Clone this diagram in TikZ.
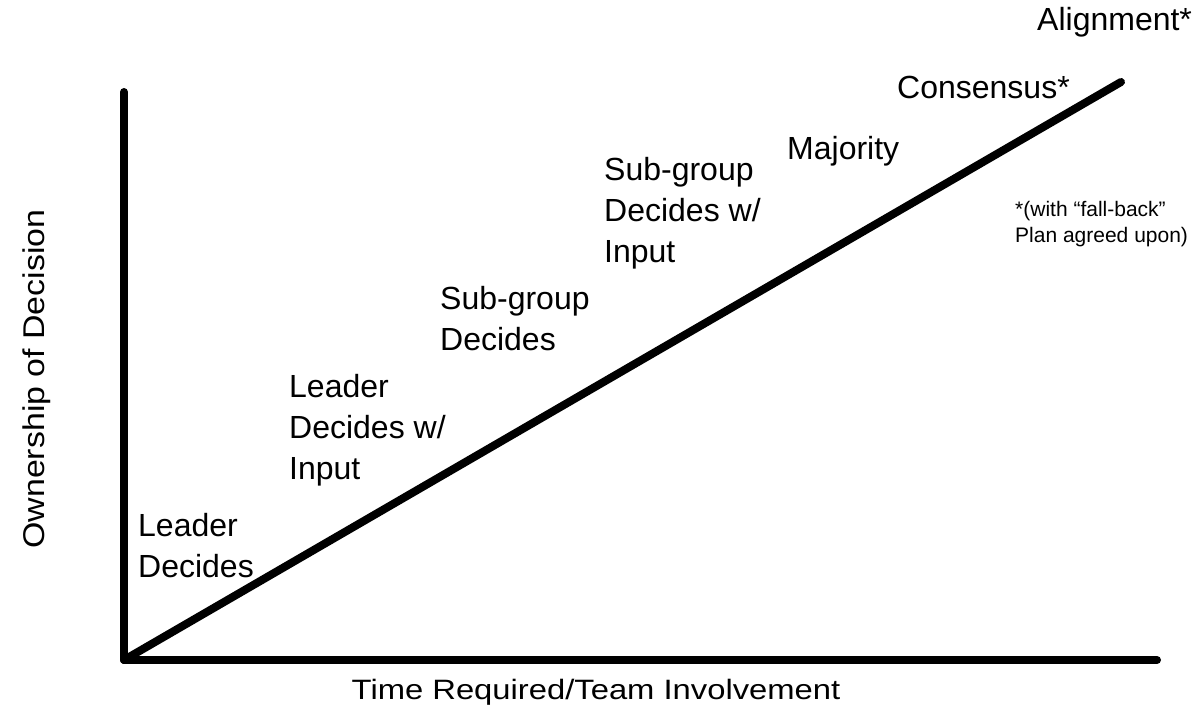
\documentclass[tikz,border=0pt]{standalone}
\usepackage{fontspec}
\setmainfont{Liberation Sans}
\begin{document}
\begin{tikzpicture}[x=1pt,y=-1pt,
  axis/.style={line width=8pt,line cap=round,line join=round},
  lbl/.style={anchor=base west,inner sep=0pt,align=left,font=\fontsize{32}{41}\selectfont},
  axlbl/.style={anchor=base,inner sep=0pt,font=\fontsize{28}{34}\selectfont},
  note/.style={anchor=base west,inner sep=0pt,align=left,font=\fontsize{21}{26}\selectfont}]
\useasboundingbox (0,0) rectangle (1195,706);
\coordinate (origin) at (124,660);
\coordinate (ytop) at (124,92);
\coordinate (xend) at (1157,660);
\coordinate (diag) at (1121,82);
\draw[axis] (ytop) -- (origin) -- (xend);
\draw[axis] (origin) -- (diag);
% multi-line labels are placed by the baseline of their last line
\node[lbl] (ld) at (138,577) {Leader\\Decides};
\node[lbl] (ldi) at (289,479) {Leader\\Decides w/\\Input};
\node[lbl] (sgd) at (440,350) {Sub-group\\Decides};
\node[lbl] (sgdi) at (604,262) {Sub-group\\Decides w/\\Input};
\node[lbl] (maj) at (787,160) {Majority};
\node[lbl] (cons) at (897,99) {Consensus*};
\node[lbl] (align) at (1037,31) {Alignment*};
\node[note] (fb) at (1015,243) {*(with “fall-back”\\Plan agreed upon)};
\node[axlbl] (xl) at (596,699) {\scalebox{1.17}[1]{Time Required/Team Involvement}};
\node[axlbl,rotate=90,font=\fontsize{30}{36}\selectfont] (yl) at (45,379) {\scalebox{1.13}[1]{Ownership of Decision}};
\end{tikzpicture}
\end{document}
